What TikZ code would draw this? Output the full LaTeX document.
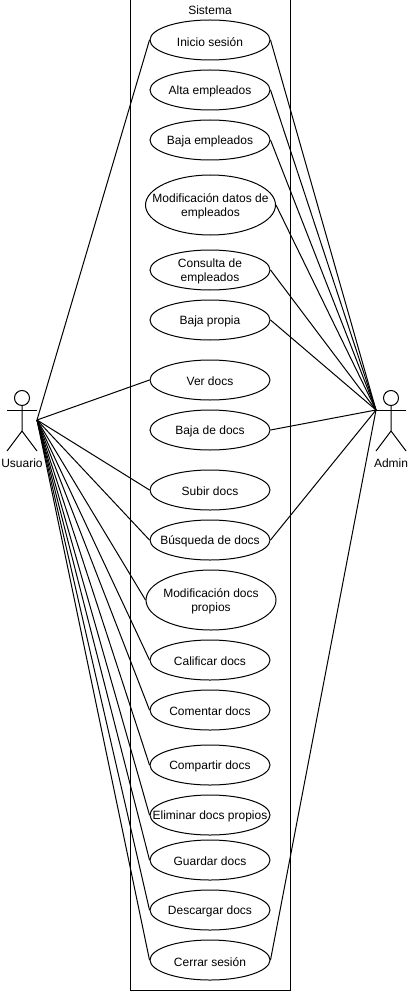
\documentclass[tikz,border=0pt]{standalone}
\usepackage{xcolor}
\usepackage{fontspec}
\setmainfont{Liberation Sans}
\usetikzlibrary{shapes.geometric, positioning}

\begin{document}
\begin{tikzpicture}[
  x=0.75pt, y=-0.75pt,
  line width=0.75pt,
  rotulo/.style={font=\fontsize{9}{10.5}\selectfont, inner sep=0pt, align=center},
  uso/.style={ellipse, draw, fill=white, inner sep=0pt, minimum width=90pt, minimum height=30pt,
              label={[rotulo, yshift=-1.25pt]center:#1}},
  usoalto/.style={uso={#1}, minimum width=97.5pt, minimum height=45pt},
  lin/.style={line width=0.75pt}
]
\useasboundingbox (0,0) rectangle (409,991);

\node[draw, minimum width=120pt, minimum height=742.5pt, inner sep=0pt] (sistema) at (210,495) {};
\node[rotulo] (sistemalabel) at (210,10) {Sistema};

\coordinate (usuario) at (37,420);
\coordinate (admin) at (376,410);

% casos de uso
\node[uso={Inicio sesión}]     (inicio)     at (210,40)  {};
\node[uso={Alta empleados}]    (alta)       at (210,90)  {};
\node[uso={Baja empleados}]    (bajaemp)    at (210,140) {};
\node[usoalto={Modificación datos de\\empleados}] (modifdatos) at (210.5,205) {};
\node[uso={Consulta de\\empleados}] (consulta) at (210,270) {};
\node[uso={Baja propia}]       (bajapropia) at (210,320) {};
\node[uso={Ver docs}]          (ver)        at (210,380) {};
\node[uso={Baja de docs}]      (bajadocs)   at (210,430) {};
\node[uso={Subir docs}]        (subir)      at (210,490) {};
\node[uso={Búsqueda de docs}]  (busqueda)   at (210,540) {};
\node[usoalto={Modificación docs\\propios}] (modifdocs) at (211,600) {};
\node[uso={Calificar docs}]    (calificar)  at (210,660) {};
\node[uso={Comentar docs}]     (comentar)   at (210,710) {};
\node[uso={Compartir docs}]    (compartir)  at (210,765) {};
\node[uso={Eliminar docs propios}] (eliminar) at (210,815) {};
\node[uso={Guardar docs}]      (guardar)    at (210,860) {};
\node[uso={Descargar docs}]    (descargar)  at (210,910) {};
\node[uso={Cerrar sesión}]     (cerrar)     at (210,960) {};

% conectores
\foreach \u in {inicio,ver,subir,busqueda,modifdocs,calificar,comentar,compartir,eliminar,guardar,descargar,cerrar}
  \draw[lin] (usuario) -- (\u.west);
\foreach \u in {inicio,alta,bajaemp,modifdatos,consulta,bajapropia,bajadocs,busqueda,cerrar}
  \draw[lin] (admin) -- (\u.east);

% actores
\node[circle, draw, minimum size=11.25pt, inner sep=0pt] (usuariohead) at (22,398) {};
\draw (usuariohead.south) -- (22,431) -- (7,451);
\draw (22,431) -- (37,451);
\draw (7,410) -- (37,410);
\node[rotulo] (usuariolabel) at (22,463) {Usuario};

\node[circle, draw, minimum size=11.25pt, inner sep=0pt] (adminhead) at (391,398) {};
\draw (adminhead.south) -- (391,431) -- (376,451);
\draw (391,431) -- (406,451);
\draw (376,410) -- (406,410);
\node[rotulo] (adminlabel) at (391,463) {Admin};
\end{tikzpicture}
\end{document}
